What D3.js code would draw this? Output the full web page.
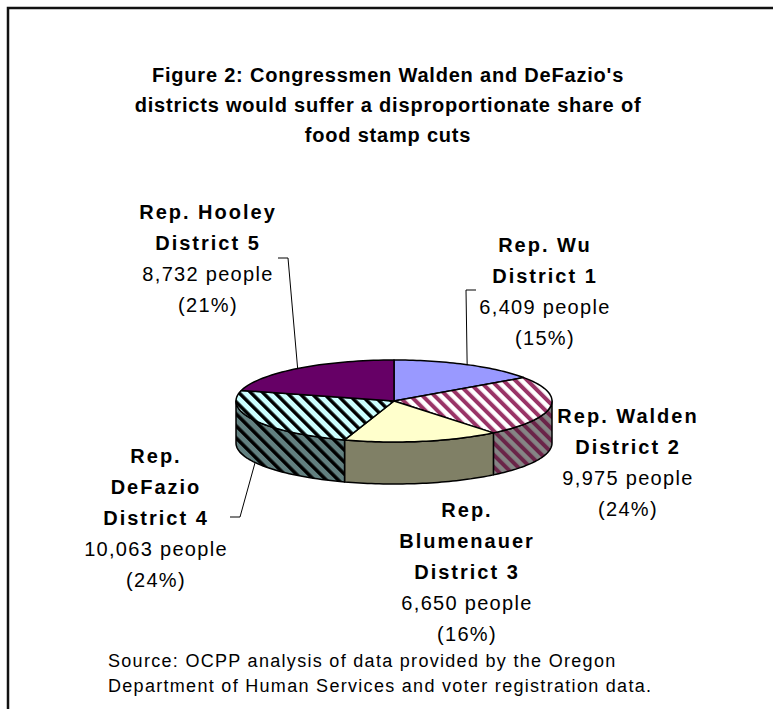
<!DOCTYPE html>
<html>
<head>
<meta charset="utf-8">
<script src="https://cdn.jsdelivr.net/npm/d3@7"></script>
<style>
  body { margin: 0; background: #fff; }
  svg { display: block; font-family: "Liberation Sans", Arial, sans-serif; }
</style>
</head>
<body>
<div id="chart"></div>
<script>
// Values (food stamp recipients per congressional district)
const reps = ["Wu", "Walden", "Blumenauer", "DeFazio", "Hooley"];
const districts = ["District 1", "District 2", "District 3", "District 4", "District 5"];
const people = [6409, 9975, 6650, 10063, 8732];

const titleLines = [
    "Figure 2: Congressmen Walden and DeFazio's",
    "districts would suffer a disproportionate share of",
    "food stamp cuts"
];
const sourceLines = [
    "Source: OCPP analysis of data provided by the Oregon",
    "Department of Human Services and voter registration data."
];

// Set up dimensions
const width = 773, height = 709;
const cx = 394, cy = 401;          // centre of the top face
const rx = 158, ry = 41, depth = 42;

// Slice look: top colour, side colour, optional hatch
const sliceStyle = [
    { top: "#9999ff", side: "#4d4d80" },
    { top: "#ffffff", side: "#858585", stripe: "#993366", stripeSide: "#6a2448", w: 4 },
    { top: "#ffffcc", side: "#808066" },
    { top: "#ccffff", side: "#628080", stripe: "#000000", stripeSide: "#000000", w: 3.5 },
    { top: "#660066", side: "#330033" }
];

// Label placement relative to the pie centre; elbow = start of leader line
const labelPos = [
    { dx: 151, dy: -149, split: false, elbow: [[82, -111], [72, -111]] },
    { dx: 234, dy: 22, split: false, elbow: null },
    { dx: 73, dy: 116, split: true, elbow: null },
    { dx: -238, dy: 62, split: true, elbow: [[-164, 116], [-154, 116]] },
    { dx: -186, dy: -182, split: false, elbow: [[-116, -143], [-106, -143]] }
];

const svg = d3.select("#chart")
    .append("svg")
    .attr("width", width)
    .attr("height", height);

const defs = svg.append("defs");
const period = 8.5;

function hatch(id, bg, fg, w) {
    const p = defs.append("pattern")
        .attr("id", id)
        .attr("patternUnits", "userSpaceOnUse")
        .attr("width", period)
        .attr("height", period)
        .attr("patternTransform", "rotate(-45)");
    p.append("rect").attr("width", period).attr("height", period).attr("fill", bg);
    p.append("rect").attr("width", w).attr("height", period).attr("fill", fg);
}

sliceStyle.forEach((s, i) => {
    if (s.stripe) {
        hatch(`top-${i}`, s.top, s.stripe, s.w);
        hatch(`side-${i}`, s.side, s.stripeSide, s.w);
    }
});
const topFill = i => sliceStyle[i].stripe ? `url(#top-${i})` : sliceStyle[i].top;
const sideFill = i => sliceStyle[i].stripe ? `url(#side-${i})` : sliceStyle[i].side;

// frame (runs off the right and bottom edges like the original)
svg.append("rect")
    .attr("x", 8).attr("y", 8)
    .attr("width", 900).attr("height", 900)
    .attr("fill", "none")
    .attr("stroke", "#111")
    .attr("stroke-width", 2.5);

// title
svg.append("text")
    .attr("text-anchor", "middle")
    .attr("font-weight", "bold")
    .attr("font-size", 20)
    .attr("letter-spacing", 0.8)
    .selectAll("tspan")
    .data(titleLines)
    .join("tspan")
    .attr("x", 388)
    .attr("y", (d, i) => 82 + i * 30)
    .text(d => d);

// pie angles: d3.pie starts at 12 o'clock and runs clockwise
const arcs = d3.pie().sort(null).value(d => d)(people);
const total = d3.sum(people);

const pt = (a, z = 0) => [cx + rx * Math.sin(a), cy - ry * Math.cos(a) + z];
const line = d3.line();
const samples = (a0, a1, z) => d3.range(0, 41).map(k => pt(a0 + (a1 - a0) * k / 40, z));

// sides: only the front half (pi/2 .. 3pi/2) is visible
const sides = svg.append("g");
arcs.forEach((d, i) => {
    const s = Math.max(d.startAngle, Math.PI / 2);
    const e = Math.min(d.endAngle, 3 * Math.PI / 2);
    if (s >= e) return;
    const pts = samples(s, e, 0).concat(samples(e, s, depth));
    sides.append("path")
        .attr("d", line(pts) + "Z")
        .attr("fill", sideFill(i))
        .attr("stroke", "#000")
        .attr("stroke-width", 1.5)
        .attr("stroke-linejoin", "round");
});

// top faces
const tops = svg.append("g");
arcs.forEach((d, i) => {
    const pts = [[cx, cy]].concat(samples(d.startAngle, d.endAngle, 0));
    tops.append("path")
        .attr("d", line(pts) + "Z")
        .attr("fill", topFill(i))
        .attr("stroke", "#000")
        .attr("stroke-width", 1.5)
        .attr("stroke-linejoin", "round");
});

// leader lines
arcs.forEach((d, i) => {
    const lp = labelPos[i];
    if (!lp.elbow) return;
    const mid = (d.startAngle + d.endAngle) / 2;
    const anchor = Math.cos(mid) < 0 ? pt(mid, depth) : pt(mid);
    const pts = lp.elbow.map(([x, y]) => [cx + x, cy + y]).concat([anchor]);
    svg.append("path")
        .attr("d", line(pts))
        .attr("fill", "none")
        .attr("stroke", "#000")
        .attr("stroke-width", 1);
});

// labels
const fmtPct = d3.format(".0%");
const fmtNum = d3.format(",");
arcs.forEach((d, i) => {
    const lp = labelPos[i];
    const bold = lp.split ? ["Rep.", reps[i], districts[i]] : [`Rep. ${reps[i]}`, districts[i]];
    const rows = bold.map(t => ({ t, b: true }))
        .concat([{ t: `${fmtNum(people[i])} people`, b: false }, { t: `(${fmtPct(people[i] / total)})`, b: false }]);
    svg.append("text")
        .attr("text-anchor", "middle")
        .attr("font-size", 20)
        .attr("fill", "#000")
        .selectAll("tspan")
        .data(rows)
        .join("tspan")
        .attr("x", cx + lp.dx)
        .attr("y", (r, k) => cy + lp.dy + k * 31)
        .attr("font-weight", r => r.b ? "bold" : "normal")
        .attr("letter-spacing", r => r.b ? 2 : 1.3)
        .text(r => r.t);
});

// source note
svg.append("text")
    .attr("font-size", 18)
    .attr("letter-spacing", 1.3)
    .selectAll("tspan")
    .data(sourceLines)
    .join("tspan")
    .attr("x", 108)
    .attr("y", (d, i) => 667 + i * 25)
    .text(d => d);
</script>
</body>
</html>
